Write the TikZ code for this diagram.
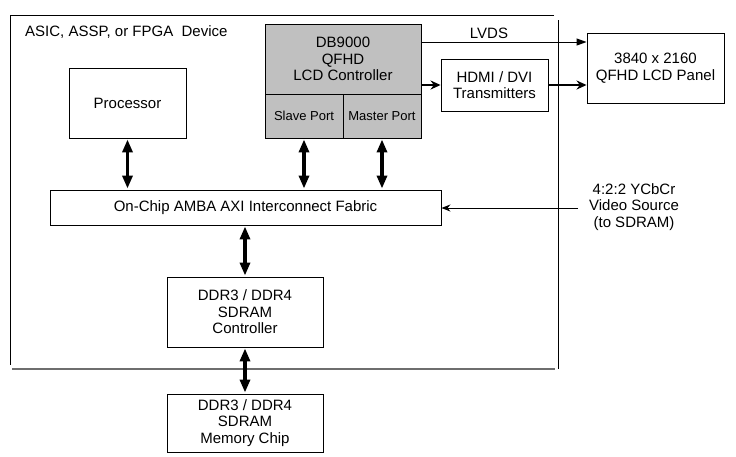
\documentclass[tikz,border=0pt]{standalone}
\usepackage{fontspec}
\setmainfont{Liberation Sans}
\usetikzlibrary{arrows.meta}
\definecolor{boxgray}{RGB}{192,192,192}
\definecolor{framegray}{RGB}{110,110,110}
\tikzset{
  blk/.style={draw=black, line width=0.9pt, rectangle, inner sep=0pt, align=center,
              font=\fontsize{15}{16.5}\selectfont},
  gblk/.style={blk, fill=boxgray},
  portblk/.style={gblk, font=\fontsize{13}{15}\selectfont},
  lbl/.style={inner sep=0pt, align=center, font=\fontsize{15}{16.5}\selectfont},
  busarrow/.style={line width=3.6pt, {Triangle[width=10pt,length=13pt]}-{Triangle[width=10pt,length=13pt]}, shorten <=1pt, shorten >=1pt},
  thinarrow/.style={line width=1pt, -{Triangle[width=7pt,length=10pt]}},
  vidarrow/.style={line width=1pt, -{Stealth[width=7pt,length=9pt]}},
  medarrow/.style={line width=2.4pt, -{Stealth[width=9pt,length=10pt]}},
  framel/.style={line width=1pt, draw=black},
}
\begin{document}
\begin{tikzpicture}[x=1pt, y=-1pt]
\useasboundingbox (0,0) rectangle (736,456);
\fill[white] (0,0) rectangle (736,456);
% device frame
\draw[framel] (554,15) -- (10,15) -- (10,365);
\draw[framel] (558,20) -- (558,369);
\draw[line width=1.6pt, draw=framegray] (12,369) -- (555,369);
\node[lbl, anchor=west] (devlbl) at (25,32) {ASIC, ASSP, or FPGA\ \ Device};

% boxes
\node[blk, minimum width=117pt, minimum height=70pt] (proc) at (127.5,103) {Processor};
\node[gblk, minimum width=156pt, minimum height=70pt] (db) at (343,59) {DB9000\\QFHD\\LCD Controller};
\node[portblk, minimum width=78pt, minimum height=44pt] (slave) at (304,116) {Slave Port};
\node[portblk, minimum width=78pt, minimum height=44pt] (master) at (382,116) {Master Port};
\node[blk, minimum width=391pt, minimum height=35pt] (fab) at (245.5,207.5) {On-Chip AMBA AXI Interconnect Fabric};
\node[blk, minimum width=156pt, minimum height=70pt] (ctrl) at (245,312) {DDR3 / DDR4\\SDRAM\\Controller};
\node[blk, minimum width=156pt, minimum height=58pt] (mem) at (245,423) {DDR3 / DDR4\\SDRAM\\Memory Chip};
\node[blk, minimum width=107pt, minimum height=52pt] (hdmi) at (494.5,85) {HDMI / DVI\\Transmitters};
\node[blk, minimum width=137pt, minimum height=70pt] (panel) at (655.5,68) {3840 x 2160\\QFHD LCD Panel};
\node[lbl] (vid) at (634,207) {4:2:2 YCbCr\\Video Source\\(to SDRAM)};
\node[lbl] (lvds) at (489,33) {LVDS};

% bus arrows
\draw[busarrow] (proc.south) -- (proc.south |- fab.north);
\draw[busarrow] (slave.south) -- (slave.south |- fab.north);
\draw[busarrow] (master.south) -- (master.south |- fab.north);
\draw[busarrow] (ctrl.north) -- (ctrl.north |- fab.south);
\draw[busarrow] (ctrl.south) -- (mem.north);

% video outputs
\coordinate (lv) at (421,42);
\draw[thinarrow] (lv) -- (lv -| panel.west);
\draw[medarrow] (hdmi.west -| db.east) -- (hdmi.west);
\draw[medarrow] (hdmi.east) -- (hdmi.east -| panel.west);

% video source
\coordinate (vs) at (578,208);
\draw[vidarrow] (vs) -- (vs -| fab.east);
\end{tikzpicture}
\end{document}
